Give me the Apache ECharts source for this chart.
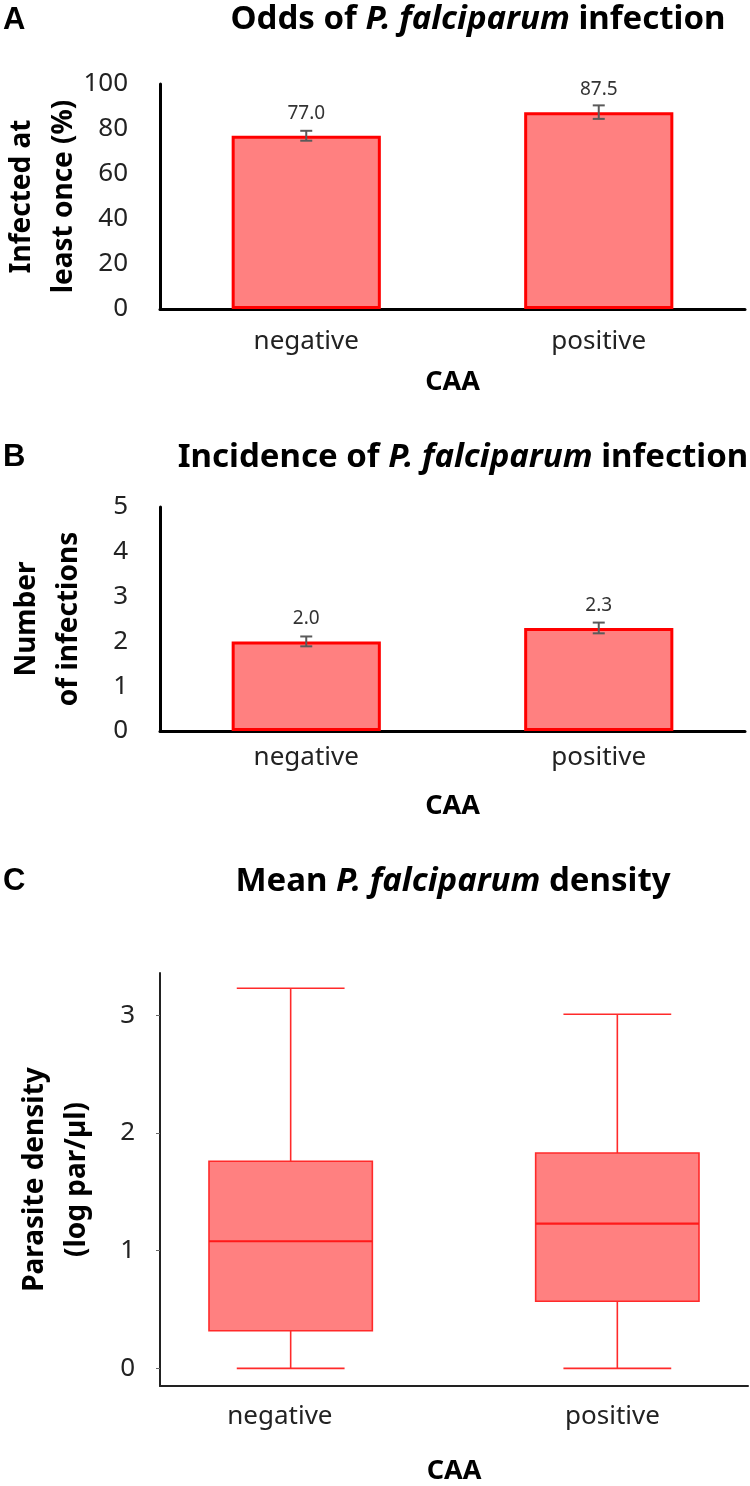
<!DOCTYPE html>
<html><head><meta charset="utf-8">
<script src="https://cdn.jsdelivr.net/npm/echarts@6/dist/echarts.min.js"></script>
<style>html,body{margin:0;padding:0;background:#fff}#c{width:750px;height:1486px}</style>
</head><body><div id="c"></div>
<script>
// ---- data ----
const categories = ['negative', 'positive'];
// Panel A: % infected at least once
const oddsValues = [77.0, 87.5];
const oddsErr = [2.2, 3.0];
const oddsTicks = [0, 20, 40, 60, 80, 100];
// Panel B: number of infections
const incValues = [2.0, 2.3];
const incErr = [0.11, 0.12];
const incTicks = [0, 1, 2, 3, 4, 5];
// Panel C: parasite density (log par/µl) box stats [min, Q1, median, Q3, max]
const densityNeg = [0, 0.32, 1.08, 1.76, 3.23];
const densityPos = [0, 0.57, 1.23, 1.83, 3.01];
const densityTicks = [0, 1, 2, 3];

const FONT = 'Noto Sans';
const chart = echarts.init(document.getElementById('c'), null, {renderer: 'canvas'});

const titleRich = {
  b: {fontFamily: FONT, fontWeight: 'bold', fontSize: 33, lineHeight: 33, color: '#000'},
  i: {fontFamily: FONT, fontWeight: 'bold', fontStyle: 'italic', fontSize: 33, lineHeight: 33, color: '#000'}
};
function mkTitle(pre, post, cx, top) {
  return {text: '{b|' + pre + '}{i|P. falciparum}{b|' + post + '}', left: cx, textAlign: 'center', top: top,
    padding: 0, textStyle: {rich: titleRich}};
}
function letter(t, top) {
  return {text: t, left: 3, top: top, padding: 0,
    textStyle: {fontFamily: 'Liberation Sans', fontWeight: 'bold', fontSize: 31, lineHeight: 31, color: '#000'}};
}

const errSeries = (vals, errs, idx) => ({
  type: 'custom', xAxisIndex: idx, yAxisIndex: idx, z: 5,
  data: vals.map((v, i) => [i, v - errs[i], v + errs[i]]),
  renderItem: function (params, api) {
    const x = api.value(0);
    const p1 = api.coord([x, api.value(1)]);
    const p2 = api.coord([x, api.value(2)]);
    const w = 6;
    const st = {stroke: '#5a5a5a', lineWidth: 2};
    return {type: 'group', children: [
      {type: 'line', shape: {x1: p1[0], y1: p1[1], x2: p2[0], y2: p2[1]}, style: st},
      {type: 'line', shape: {x1: p1[0] - w, y1: p1[1], x2: p1[0] + w, y2: p1[1]}, style: st},
      {type: 'line', shape: {x1: p2[0] - w, y1: p2[1], x2: p2[0] + w, y2: p2[1]}, style: st}
    ]};
  }
});

const barSeries = (vals, idx) => ({
  type: 'bar', xAxisIndex: idx, yAxisIndex: idx, data: vals, barWidth: '51%',
  itemStyle: {color: '#ff8080', borderColor: '#ff0000', borderWidth: 3},
  label: {show: true, position: 'top', distance: 13, formatter: p => p.value.toFixed(1),
    fontFamily: FONT, fontSize: 19, color: '#333'}
});

// box positions on a numeric x scale: category i sits at i+1
const boxData = [[1].concat(densityNeg), [2].concat(densityPos)];

const xAxisBase = (idx, nameGap, margin) => ({
  type: 'category', gridIndex: idx, data: categories,
  axisLine: {lineStyle: {color: '#000', width: 3}}, axisTick: {show: false},
  axisLabel: {fontFamily: FONT, fontSize: 26, color: '#222', margin: margin},
  name: 'CAA', nameLocation: 'middle', nameGap: nameGap, nameMoveOverlap: false,
  nameTextStyle: {fontFamily: FONT, fontWeight: 'bold', fontSize: 27, color: '#000'}
});
const yName = {fontFamily: FONT, fontWeight: 'bold', fontSize: 28, color: '#000', lineHeight: 42};
const yLab = {fontFamily: FONT, fontSize: 26, color: '#222'};

const option = {
  animation: false,
  title: [
    letter('A', 5), mkTitle('Odds of ', ' infection', 478, 3),
    letter('B', 442), mkTitle('Incidence of ', ' infection', 463, 441),
    letter('C', 866), mkTitle('Mean ', ' density', 453, 865)
  ],
  grid: [
    {left: 160, top: 84, width: 585, height: 225, outerBoundsMode: 'none', containLabel: false},
    {left: 160, top: 507, width: 585, height: 224, outerBoundsMode: 'none', containLabel: false},
    {left: 160, top: 973, width: 588, height: 413, outerBoundsMode: 'none', containLabel: false}
  ],
  xAxis: [
    xAxisBase(0, 60, 20),
    xAxisBase(1, 62, 14),
    {type: 'value', gridIndex: 2, min: 0.6, max: 2.4, splitLine: {show: false},
      axisLine: {show: true, onZero: false, lineStyle: {color: '#222', width: 2}}, axisTick: {show: false},
      axisLabel: {fontFamily: FONT, fontSize: 26, color: '#222', margin: 18, customValues: [0.967, 1.985],
        formatter: v => categories[Math.round(v) - 1]},
      name: 'CAA', nameLocation: 'middle', nameGap: 72, nameMoveOverlap: false,
      nameTextStyle: {fontFamily: FONT, fontWeight: 'bold', fontSize: 27, color: '#000'}}
  ],
  yAxis: [
    {type: 'value', gridIndex: 0, min: oddsTicks[0], max: oddsTicks[oddsTicks.length - 1], interval: 20,
      splitLine: {show: false}, axisLine: {show: true, lineStyle: {color: '#000', width: 3}}, axisTick: {show: false},
      axisLabel: Object.assign({margin: 32}, yLab),
      name: 'Infected at\nleast once (%)', nameLocation: 'middle', nameRotate: 90, nameGap: 75,
      nameMoveOverlap: false, nameTextStyle: yName},
    {type: 'value', gridIndex: 1, min: incTicks[0], max: incTicks[incTicks.length - 1], interval: 1,
      splitLine: {show: false}, axisLine: {show: true, lineStyle: {color: '#000', width: 3}}, axisTick: {show: false},
      axisLabel: Object.assign({margin: 32}, yLab),
      name: 'Number\nof infections', nameLocation: 'middle', nameRotate: 90, nameGap: 70,
      nameMoveOverlap: false, nameTextStyle: yName},
    {type: 'value', gridIndex: 2, min: -0.15, max: 3.36,
      splitLine: {show: false}, axisLine: {show: true, onZero: false, lineStyle: {color: '#222', width: 2}},
      axisTick: {show: true, length: 4, customValues: densityTicks, lineStyle: {color: '#666'}},
      axisLabel: Object.assign({margin: 25, customValues: densityTicks}, yLab),
      name: 'Parasite density\n(log par/µl)', nameLocation: 'middle', nameRotate: 90, nameGap: 62,
      nameMoveOverlap: false, nameTextStyle: yName}
  ],
  series: [
    barSeries(oddsValues, 0), errSeries(oddsValues, oddsErr, 0),
    barSeries(incValues, 1), errSeries(incValues, incErr, 1),
    {
      type: 'custom', xAxisIndex: 2, yAxisIndex: 2, data: boxData,
      renderItem: function (params, api) {
        const x = api.value(0);
        const unit = api.size([1, 0])[0];
        const bw = unit * 0.5, cw = unit * 0.33;
        const pMin = api.coord([x, api.value(1)]);
        const pQ1 = api.coord([x, api.value(2)]);
        const pMed = api.coord([x, api.value(3)]);
        const pQ3 = api.coord([x, api.value(4)]);
        const pMax = api.coord([x, api.value(5)]);
        const cx = pMed[0];
        const ln = {stroke: '#ff2a2a', lineWidth: 1.6};
        return {type: 'group', children: [
          {type: 'line', shape: {x1: cx, y1: pMin[1], x2: cx, y2: pQ1[1]}, style: ln},
          {type: 'line', shape: {x1: cx, y1: pQ3[1], x2: cx, y2: pMax[1]}, style: ln},
          {type: 'line', shape: {x1: cx - cw / 2, y1: pMin[1], x2: cx + cw / 2, y2: pMin[1]}, style: ln},
          {type: 'line', shape: {x1: cx - cw / 2, y1: pMax[1], x2: cx + cw / 2, y2: pMax[1]}, style: ln},
          {type: 'rect', shape: {x: cx - bw / 2, y: pQ3[1], width: bw, height: pQ1[1] - pQ3[1]},
            style: {fill: '#ff8080', stroke: '#ff2a2a', lineWidth: 1.6}},
          {type: 'line', shape: {x1: cx - bw / 2, y1: pMed[1], x2: cx + bw / 2, y2: pMed[1]},
            style: {stroke: '#ff1a1a', lineWidth: 2.2}}
        ]};
      }
    }
  ]
};
chart.setOption(option);
</script></body></html>
